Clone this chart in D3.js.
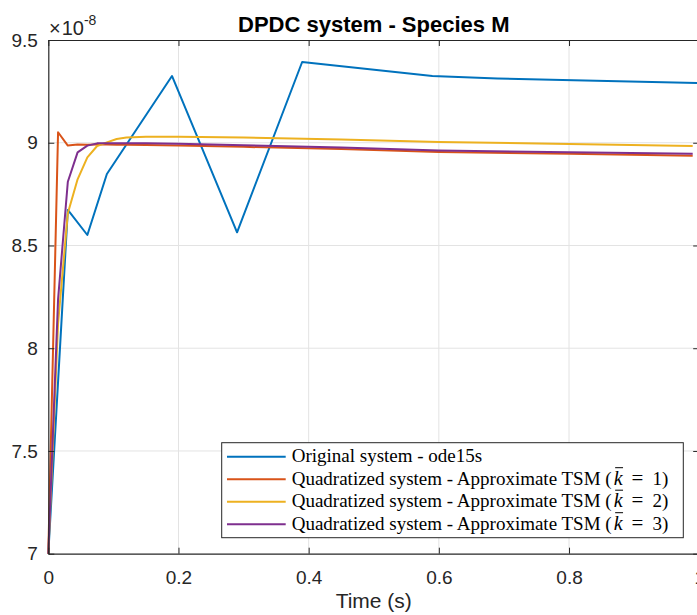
<!DOCTYPE html>
<html>
<head>
<meta charset="utf-8">
<script src="https://cdn.jsdelivr.net/npm/d3@7"></script>
<style>
  html, body { margin: 0; padding: 0; background: #fff; overflow: hidden; }
  svg { display: block; }
</style>
</head>
<body>
<svg id="chart" width="697" height="615"></svg>
<script>
// Original system (ode15s) - time steps and values (x 1e-8)
const tOrig = [0, 0.03, 0.06, 0.09, 0.19, 0.29, 0.39, 0.59, 0.69, 0.79, 1.0];
const mOrig = [7.0, 8.673, 8.551, 8.848, 9.325, 8.564, 9.393, 9.325, 9.313, 9.305, 9.29];

// Quadratized system - approximate TSM, shared time grid
const tTsm = [0, 0.015, 0.03, 0.045, 0.06, 0.075, 0.09, 0.105, 0.12, 0.15, 0.2, 0.3, 0.45, 0.6, 0.8, 0.99];
const mK1 = [7.0, 9.051, 8.986, 8.992, 8.990, 8.991, 8.991, 8.990, 8.990, 8.989, 8.986, 8.980, 8.969, 8.955, 8.946, 8.937];
const mK2 = [7.0, 8.12, 8.657, 8.822, 8.929, 8.984, 9.002, 9.018, 9.025, 9.029, 9.029, 9.025, 9.016, 9.004, 8.994, 8.984];
const mK3 = [7.0, 8.238, 8.81, 8.953, 8.986, 8.997, 8.998, 8.998, 8.998, 8.997, 8.995, 8.988, 8.977, 8.962, 8.954, 8.947];

const seriesNames = ["Original system - ode15s", "Quadratized system - Approximate TSM", "Quadratized system - Approximate TSM", "Quadratized system - Approximate TSM"];
const seriesK = [null, 1, 2, 3];
const seriesColors = ["#0072BD", "#D95319", "#EDB120", "#7E2F8E"];

const xTicks = [0, 0.2, 0.4, 0.6, 0.8, 1];
const xTickLabels = ["0", "0.2", "0.4", "0.6", "0.8", "1"];
const yTicks = [7, 7.5, 8, 8.5, 9, 9.5];
const yTickLabels = ["7", "7.5", "8", "8.5", "9", "9.5"];

const series = [
    { t: tOrig, v: mOrig },
    { t: tTsm, v: mK1 },
    { t: tTsm, v: mK2 },
    { t: tTsm, v: mK3 }
];

const sansFont = "'Liberation Sans', Arial, Helvetica, sans-serif";
const serifFont = "'Liberation Serif', 'Times New Roman', serif";
const axisColor = "#262626";

const plot = { left: 48.3, right: 699.2, top: 40, bottom: 553.7 };

const svg = d3.select("#chart");

const x = d3.scaleLinear().domain([0, 1]).range([plot.left, plot.right]);
const y = d3.scaleLinear().domain([7, 9.5]).range([plot.bottom, plot.top]);

// grid
svg.append("g")
    .selectAll("line.vgrid")
    .data(xTicks.slice(1, -1))
    .enter().append("line")
    .attr("x1", d => x(d)).attr("x2", d => x(d))
    .attr("y1", plot.top).attr("y2", plot.bottom)
    .attr("stroke", "#e3e3e3").attr("stroke-width", 1);

svg.append("g")
    .selectAll("line.hgrid")
    .data(yTicks.slice(1, -1))
    .enter().append("line")
    .attr("x1", plot.left).attr("x2", plot.right)
    .attr("y1", d => y(d)).attr("y2", d => y(d))
    .attr("stroke", "#e3e3e3").attr("stroke-width", 1);

// data lines
const line = d3.line().x(d => x(d[0])).y(d => y(d[1]));
series.forEach((s, i) => {
    svg.append("path")
        .datum(d3.zip(s.t, s.v))
        .attr("d", line)
        .attr("fill", "none")
        .attr("stroke", seriesColors[i])
        .attr("stroke-width", 2)
        .attr("stroke-linejoin", "round");
});

// axes (MATLAB box style, ticks pointing inward)
function styleAxis(g) {
    g.select(".domain").attr("stroke", axisColor).attr("stroke-width", 1.2);
    g.selectAll(".tick line").attr("stroke", axisColor).attr("stroke-width", 1);
    g.selectAll("text").attr("fill", axisColor).style("font-family", sansFont).style("font-size", "19px");
}

svg.append("g")
    .attr("transform", `translate(0,${plot.bottom})`)
    .call(d3.axisBottom(x).tickValues(xTicks).tickSizeInner(-6).tickSizeOuter(0).tickPadding(16.5)
        .tickFormat((d, i) => xTickLabels[i]))
    .call(styleAxis);

svg.append("g")
    .attr("transform", `translate(0,${plot.top})`)
    .call(d3.axisTop(x).tickValues(xTicks).tickSizeInner(-6).tickSizeOuter(0).tickFormat(""))
    .call(styleAxis);

svg.append("g")
    .attr("transform", `translate(${plot.left},0)`)
    .call(d3.axisLeft(y).tickValues(yTicks).tickSizeInner(-6).tickSizeOuter(0).tickPadding(10.5)
        .tickFormat((d, i) => yTickLabels[i]))
    .call(styleAxis);

svg.append("g")
    .attr("transform", `translate(${plot.right},0)`)
    .call(d3.axisRight(y).tickValues(yTicks).tickSizeInner(-6).tickSizeOuter(0).tickFormat(""))
    .call(styleAxis);

// exponent label
const expo = svg.append("text")
    .attr("x", 49)
    .attr("y", 35)
    .attr("fill", axisColor)
    .style("font-family", sansFont)
    .style("font-size", "20px");
expo.append("tspan").text("\u00d7");
expo.append("tspan").attr("dx", 1).text("10");
expo.append("tspan").attr("dy", -10).style("font-size", "14px").text("-8");

// title
svg.append("text")
    .attr("x", (plot.left + plot.right) / 2)
    .attr("y", 31.5)
    .attr("text-anchor", "middle")
    .style("font-family", sansFont)
    .style("font-size", "22px")
    .style("font-weight", "bold")
    .attr("fill", "#000")
    .text("DPDC system - Species M");

// x label
svg.append("text")
    .attr("x", (plot.left + plot.right) / 2)
    .attr("y", 608)
    .attr("text-anchor", "middle")
    .style("font-family", sansFont)
    .style("font-size", "21px")
    .attr("fill", axisColor)
    .text("Time (s)");

// legend
const legend = { left: 221.7, top: 442.7, width: 461.6, height: 95, rowY: 456.7, rowStep: 22.5 };
const lg = svg.append("g");
lg.append("rect")
    .attr("x", legend.left).attr("y", legend.top)
    .attr("width", legend.width).attr("height", legend.height)
    .attr("fill", "#fff")
    .attr("stroke", axisColor).attr("stroke-width", 1);

seriesNames.forEach((name, i) => {
    const ry = legend.rowY + i * legend.rowStep;
    lg.append("line")
        .attr("x1", 227).attr("x2", 285.7)
        .attr("y1", ry).attr("y2", ry)
        .attr("stroke", seriesColors[i]).attr("stroke-width", 2);
    const txt = lg.append("text")
        .attr("x", 291.7)
        .attr("y", ry + 5.5)
        .attr("fill", "#000")
        .style("font-family", serifFont)
        .style("font-size", "19px");
    txt.append("tspan").text(name);
    if (seriesK[i] !== null) {
        txt.append("tspan").text(" (");
        txt.append("tspan").attr("dx", 2).style("font-style", "italic").style("font-size", "20px").text("k");
        txt.append("tspan").attr("dx", 9).style("font-size", "21px").text("=");
        txt.append("tspan").attr("dx", 9).text(`${seriesK[i]})`);
        // overline on k
        const node = txt.node();
        const kIndex = name.length + 2;
        const box = node.getExtentOfChar(kIndex);
        lg.append("line")
            .attr("x1", box.x + 1.5).attr("x2", box.x + box.width + 0.5)
            .attr("y1", box.y + 1).attr("y2", box.y + 1)
            .attr("stroke", "#000").attr("stroke-width", 1);
    }
});
</script>
</body>
</html>
